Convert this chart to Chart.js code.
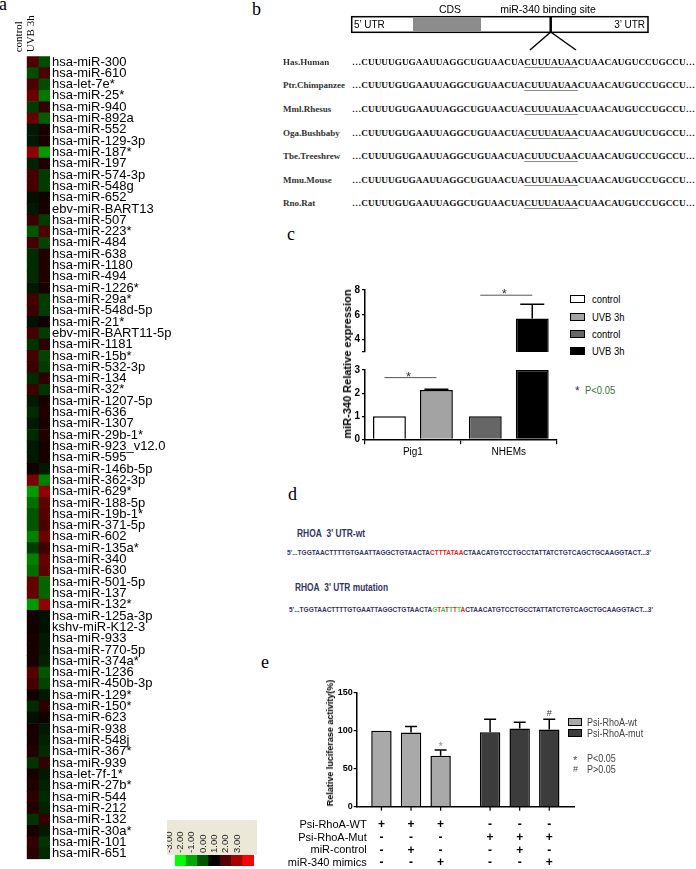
<!DOCTYPE html>
<html><head><meta charset="utf-8">
<script src="https://cdn.jsdelivr.net/npm/chart.js@4.4.1/dist/chart.umd.min.js"></script>
<style>
html,body{margin:0;padding:0;background:#fff;}
body{width:696px;height:869px;position:relative;overflow:hidden;font-family:"Liberation Sans",Arial,sans-serif;color:#000;}
canvas{position:absolute;}
.abs{position:absolute;white-space:nowrap;}
.plab{position:absolute;font-family:"Liberation Serif","Times New Roman",serif;font-size:18px;line-height:18px;}
.site{text-decoration:underline;text-decoration-color:#8a8a8a;text-underline-offset:1.5px;}
.sw{position:absolute;box-sizing:border-box;border:1.5px solid #000;}
</style></head>
<body>
<!-- panel letters -->
<div class="plab" style="left:-1px;top:-5px">a</div>
<div class="plab" style="left:252px;top:0px">b</div>
<div class="plab" style="left:287px;top:225px">c</div>
<div class="plab" style="left:288px;top:485px">d</div>
<div class="plab" style="left:261px;top:653px">e</div>

<canvas id="hm" width="200" height="869" style="left:0;top:0"></canvas>
<div style="position:absolute;left:167px;top:820px;width:90px;height:35px;background:#ebe8d8"></div>
<canvas id="hmLeg" width="90" height="47" style="left:167px;top:820px"></canvas>

<svg style="position:absolute;left:0;top:0" width="696" height="60">
  <rect x="351.7" y="16.7" width="296.3" height="15.6" fill="#fff" stroke="#000" stroke-width="1.5"/>
  <rect x="413" y="17.5" width="68" height="14" fill="#8c8c8c"/>
  <line x1="550.7" y1="16" x2="550.7" y2="32.5" stroke="#000" stroke-width="2.5"/>
  <line x1="550.7" y1="32" x2="530" y2="50" stroke="#000" stroke-width="1.5"/>
  <line x1="550.7" y1="32" x2="576" y2="50" stroke="#000" stroke-width="1.5"/>
</svg>

<canvas id="cU" width="265" height="80" style="left:300px;top:280px"></canvas>
<canvas id="cL" width="265" height="112" style="left:300px;top:360px"></canvas>
<canvas id="ce" width="320" height="189" style="left:270px;top:680px"></canvas>

<script>
// ================= DATA =================
// panel a : heat map (log ratio, -3 .. 3)
const heatColumns = ['control', 'UVB 3h'];
const mirNames = ['hsa-miR-300','hsa-miR-610','hsa-let-7e*','hsa-miR-25*','hsa-miR-940','hsa-miR-892a','hsa-miR-552','hsa-miR-129-3p','hsa-miR-187*','hsa-miR-197','hsa-miR-574-3p','hsa-miR-548g','hsa-miR-652','ebv-miR-BART13','hsa-miR-507','hsa-miR-223*','hsa-miR-484','hsa-miR-638','hsa-miR-1180','hsa-miR-494','hsa-miR-1226*','hsa-miR-29a*','hsa-miR-548d-5p','hsa-miR-21*','ebv-miR-BART11-5p','hsa-miR-1181','hsa-miR-15b*','hsa-miR-532-3p','hsa-miR-134','hsa-miR-32*','hsa-miR-1207-5p','hsa-miR-636','hsa-miR-1307','hsa-miR-29b-1*','hsa-miR-923_v12.0','hsa-miR-595','hsa-miR-146b-5p','hsa-miR-362-3p','hsa-miR-629*','hsa-miR-188-5p','hsa-miR-19b-1*','hsa-miR-371-5p','hsa-miR-602','hsa-miR-135a*','hsa-miR-340','hsa-miR-630','hsa-miR-501-5p','hsa-miR-137','hsa-miR-132*','hsa-miR-125a-3p','kshv-miR-K12-3','hsa-miR-933','hsa-miR-770-5p','hsa-miR-374a*','hsa-miR-1236','hsa-miR-450b-3p','hsa-miR-129*','hsa-miR-150*','hsa-miR-623','hsa-miR-938','hsa-miR-548j','hsa-miR-367*','hsa-miR-939','hsa-let-7f-1*','hsa-miR-27b*','hsa-miR-544','hsa-miR-212','hsa-miR-132','hsa-miR-30a*','hsa-miR-101','hsa-miR-651'];
const controlVals = [0.9,-0.9,0.9,1.2,-0.7,1.2,-0.3,-0.3,1.7,-0.4, 0.8,0.8,-0.2,-0.3,0.7,-1.0,0.8,-0.5,-0.5,-0.5, -0.3,0.8,0.7,-0.2,0.8,-0.6,0.8,0.7,-0.5,0.7, -0.3,-0.5,-0.3,-0.5,-0.3,-0.3,0.2,1.4,-1.8,-1.3, -1.0,-1.0,-1.5,-0.7,-1.5,-1.3,1.2,1.2,-1.8,0.2, 0.2,0.3,0.3,0.3,1.0,0.8,0.2,-0.5,-0.2,0.3, 0.3,0.4,-0.6,0.3,0.4,0.5,0.4,-0.6,0.3,0.6, 0.5];
const uvbVals = [-0.9,0.9,-0.9,-1.4,0.6,-1.1,0.3,0.3,-1.8,0.4, -0.7,-0.7,0.2,0.3,-0.7,0.9,-0.8,0.4,0.4,0.4, 0.3,-0.7,-0.7,0.2,-0.7,0.5,-0.8,-0.7,0.5,-0.6, 0.3,0.4,0.3,0.4,0.3,0.3,-0.3,-1.5,1.7,1.1, 1.0,0.9,1.3,0.7,1.2,1.1,-1.2,-1.2,1.7,-0.2, -0.2,-0.3,-0.3,-0.4,-1.0,-0.8,-0.3,0.5,0.2,-0.3, -0.4,-0.5,0.6,-0.3,-0.4,-0.5,-0.4,0.6,-0.3,-0.6, -0.5];
const scaleValues = [-3, -2, -1, 0, 1, 2, 3];
const scaleLabels = ['-3.00', '-2.00', '-1.00', '0.00', '1.00', '2.00', '3.00'];

// panel b : conservation of the binding site
const species = ['Has.Human','Ptr.Chimpanzee','Mml.Rhesus','Oga.Bushbaby','Tbe.Treeshrew','Mmu.Mouse','Rno.Rat'];
const seqBefore = ['CUUUUGUGAAUUAGGCUGUAACUA','CUUUUGUGAAUUAGGCUGUAACUA','CUUUUGUGAAUUAGGCUGUAACUA','CUUUUGUGAAUUAGGCUGUAACUA','CUUUUGUGAAUUAGGCUGUAACUA','CUUUUGUGAAUUAGGCUGUAACUA','CUUUUGUGAAUUAGGCUGUAACUA'];
const seqSite   = ['CUUUAUAA','CUUUAUAA','CUUUAUAA','CUUUAUAA','CUUUCUAA','CUUUAUAA','CUUUAUAA'];
const seqAfter  = ['CUAACAUGUCCUGCCU','CUAACAUGUCCUGCCU','CUAACAUGUCCUGCCU','CUAACAUGUUCUGCCU','CUAACAUGUCCUGCCU','CUAACAUGUCCUGCCU','CUAACAUGUCCUGCCU'];

// panel c : miR-340 relative expression
const cGroups = ['Pig1', 'NHEMs'];
const cControl = [1, 1];
const cUVB = [2.13, 5.7];
const cControlErr = [0, 0];
const cUVBErr = [0.04, 1.15];
const cSig = [2.67, 7.58];
const cBreak = 3;
const cUpperMax = 8;
const cUpperTicks = [3, 4, 6, 8];
const cLowerTicks = [0, 1, 2, 3];
const cLegendLabels = ['control', 'UVB 3h', 'control', 'UVB 3h'];

// panel d : sequences
const dWtBefore = "5'...TGGTAACTTTTGTGAATTAGGCTGTAACTA";
const dWtSite = 'CTTTATAA';
const dMutSite = 'GTATTTTA';
const dAfter = "CTAACATGTCCTGCCTATTATCTGTCAGCTGCAAGGTACT...3'";

// panel e : luciferase activity
const eGroups = ['Psi-RhoA-wt', 'Psi-RhoA-mut'];
const eNoMiR = [100, 98];
const eMiRControl = [97.5, 103];
const eMimics = [67, 101.5];
const eNoMiRErr = [0, 17];
const eMiRControlErr = [8, 8];
const eMimicsErr = [7.5, 13.5];
const eMimicsMark = ['*', '#'];
const eYTicks = [0, 50, 100, 150];
const eRowLabels = ['Psi-RhoA-WT', 'Psi-RhoA-Mut', 'miR-control', 'miR-340 mimics'];
const eRows = [['+','+','+','-','-','-'], ['-','-','-','+','+','+'], ['-','+','-','-','+','-'], ['-','-','+','-','-','+']];

// ================= STYLE =================
const SANS = '"Liberation Sans", Arial, sans-serif';
const SERIF = '"Liberation Serif", "Times New Roman", serif';
Chart.defaults.font.family = SANS;
Chart.defaults.color = '#000';
function heatColor(v) {
  const t = Math.max(-3, Math.min(3, v)) / 3;
  return t >= 0 ? `rgb(${Math.round(255 * t)},0,0)` : `rgb(0,${Math.round(-255 * t)},0)`;
}
const cControlColors = ['#ffffff', '#666666'];
const cUVBColors = ['#a3a3a3', '#000000'];
const eColors = ['#a9a9a9', '#3c3c3c'];

// ================= PLUGINS =================
const errorBars = {
  id: 'errorBars',
  afterDatasetsDraw(chart, args, opts) {
    const ys = chart.scales.y, ctx = chart.ctx, cap = opts.cap || 12;
    chart.data.datasets.forEach((ds, di) => {
      if (!ds.errs) return;
      const meta = chart.getDatasetMeta(di);
      const vals = ds.vals || ds.data;
      meta.data.forEach((bar, i) => {
        const v = vals[i], e = ds.errs[i];
        if (v == null || v < ys.min || v > ys.max) return;
        const y0 = ys.getPixelForValue(v);
        const y1 = ys.getPixelForValue(v + (e || 0));
        ctx.save();
        if (e) {
          ctx.strokeStyle = '#000'; ctx.lineWidth = 1.5;
          ctx.beginPath();
          ctx.moveTo(bar.x, y0); ctx.lineTo(bar.x, y1);
          ctx.moveTo(bar.x - cap / 2, y1); ctx.lineTo(bar.x + cap / 2, y1);
          ctx.stroke();
        }
        if (ds.marks && ds.marks[i]) {
          const m = ds.marks[i];
          ctx.fillStyle = m === '*' ? '#8a8a8a' : '#333';
          ctx.font = (m === '*' ? '11px ' : '9px ') + SANS;
          ctx.textAlign = 'center'; ctx.textBaseline = 'middle';
          ctx.fillText(m, bar.x, m === '*' ? y1 - 3 : y1 - 6);
        }
        ctx.restore();
      });
    });
  }
};
const sigPlugin = {
  id: 'sig',
  afterDatasetsDraw(chart, args, opts) {
    const ys = chart.scales.y, ctx = chart.ctx;
    (opts.levels || []).forEach((lv, g) => {
      if (lv == null || lv < ys.min || lv > ys.max) return;
      const x0 = chart.getDatasetMeta(0).data[g].x - 5;
      const x1 = chart.getDatasetMeta(1).data[g].x;
      const y = ys.getPixelForValue(lv);
      ctx.save();
      ctx.strokeStyle = '#555'; ctx.lineWidth = 1;
      ctx.beginPath(); ctx.moveTo(x0, y); ctx.lineTo(x1, y); ctx.stroke();
      ctx.fillStyle = '#333'; ctx.font = '13px ' + SANS;
      ctx.textAlign = 'center'; ctx.textBaseline = 'alphabetic';
      ctx.fillText('*', (x0 + x1) / 2 - 2, y + 3);
      ctx.restore();
    });
  }
};
const eTable = {
  id: 'eTable',
  afterDraw(chart) {
    const ctx = chart.ctx, ca = chart.chartArea;
    const bars = [];
    for (let i = 0; i < eGroups.length; i++)
      for (let d = 0; d < chart.data.datasets.length; d++) bars.push(chart.getDatasetMeta(d).data[i]);
    ctx.save();
    ctx.strokeStyle = '#000'; ctx.lineWidth = 1.2;
    bars.forEach(b => { ctx.beginPath(); ctx.moveTo(b.x, ca.bottom); ctx.lineTo(b.x, ca.bottom + 4); ctx.stroke(); });
    ctx.fillStyle = '#000'; ctx.textBaseline = 'middle';
    eRowLabels.forEach((lab, r) => {
      const y = ca.bottom + 18.3 + r * 12.6;
      ctx.font = '11px ' + SANS; ctx.textAlign = 'right';
      ctx.fillText(lab, ca.left + 10, y);
      ctx.textAlign = 'center'; ctx.font = 'bold 12px ' + SANS;
      eRows[r].forEach((s, k) => ctx.fillText(s, bars[k].x, y));
    });
    ctx.restore();
  }
};

// ================= PANEL a =================
new Chart(document.getElementById('hm'), {
  type: 'bar',
  data: {
    labels: mirNames,
    datasets: [
      { label: heatColumns[0], data: mirNames.map(() => [0, 1]), backgroundColor: controlVals.map(heatColor), grouped: false, barPercentage: 1, categoryPercentage: 1, borderWidth: 0 },
      { label: heatColumns[1], data: mirNames.map(() => [1, 2]), backgroundColor: uvbVals.map(heatColor), grouped: false, barPercentage: 1, categoryPercentage: 1, borderWidth: 0 }
    ]
  },
  options: {
    indexAxis: 'y', responsive: false, animation: false,
    layout: { padding: { left: 26.7, right: 0, top: 0, bottom: 5.5 } },
    plugins: { legend: { display: false }, tooltip: { enabled: false } },
    scales: {
      x: { type: 'linear', position: 'top', min: 0, max: 2,
        grid: { display: false, drawTicks: false }, border: { display: false },
        afterBuildTicks: s => { s.ticks = [{ value: 0.5 }, { value: 1.5 }]; },
        afterFit: s => { s.height = 56.3; },
        ticks: { callback: (v, i) => heatColumns[i], minRotation: 90, maxRotation: 90, padding: 4, font: { family: SERIF, size: 11 }, color: '#000' } },
      y: { position: 'right', grid: { display: false, drawTicks: false }, border: { display: false },
        afterFit: s => { s.width = 150; },
        ticks: { autoSkip: false, padding: 2, font: { size: 13 }, color: '#000' } }
    }
  }
});
new Chart(document.getElementById('hmLeg'), {
  type: 'bar',
  data: { labels: scaleLabels, datasets: [{ data: scaleValues.map(() => 1), backgroundColor: scaleValues.map(heatColor), barPercentage: 1, categoryPercentage: 1, borderWidth: 0 }] },
  options: {
    responsive: false, animation: false,
    layout: { padding: { left: 0, right: 3, top: 0, bottom: 1 } },
    plugins: { legend: { display: false }, tooltip: { enabled: false } },
    scales: {
      x: { position: 'top', grid: { display: false, drawTicks: false }, border: { display: false },
        afterFit: s => { s.height = 35; },
        ticks: { autoSkip: false, minRotation: 90, maxRotation: 90, padding: 2, font: { size: 9.5 }, color: '#222' } },
      y: { display: false, min: 0, max: 1 }
    }
  }
});

// ================= PANEL c =================
function cChart(id, upper) {
  const clip = v => upper ? (v > cBreak ? [cBreak, v] : null) : Math.min(v, cBreak);
  return new Chart(document.getElementById(id), {
    type: 'bar',
    data: { labels: cGroups, datasets: [
      { label: 'control', data: cControl.map(clip), vals: cControl, errs: cControlErr, backgroundColor: cControlColors, borderColor: '#000', borderWidth: 1.5, barPercentage: 0.70, categoryPercentage: 0.98 },
      { label: 'UVB 3h', data: cUVB.map(clip), vals: cUVB, errs: cUVBErr, backgroundColor: cUVBColors, borderColor: '#000', borderWidth: 1.5, barPercentage: 0.70, categoryPercentage: 0.98 }
    ] },
    options: {
      responsive: false, animation: false,
      layout: { padding: upper ? { left: 0, right: 8.3, top: 10, bottom: 1.7 } : { left: 0, right: 8.3, top: 10, bottom: 0 } },
      plugins: { legend: { display: false }, tooltip: { enabled: false }, errorBars: { cap: 24 }, sig: { levels: cSig } },
      scales: {
        x: upper ? { display: false } : {
          grid: { display: true, drawOnChartArea: false, tickLength: 5, color: '#000', lineWidth: 1.2 },
          border: { color: '#000', width: 1.5 },
          ticks: { font: { size: 10 }, color: '#000', padding: 2 },
          afterFit: s => { s.height = 32.7; } },
        y: { min: upper ? cBreak : 0, max: upper ? cUpperMax : cBreak,
          afterBuildTicks: s => { s.ticks = (upper ? cUpperTicks : cLowerTicks).map(v => ({ value: v })); },
          afterFit: s => { s.width = 65; },
          grid: { drawOnChartArea: false, tickLength: 3, color: '#000', lineWidth: 1.2 },
          border: { color: '#000', width: 1.5 },
          ticks: { font: { size: 10, weight: 'bold' }, color: '#000', padding: 2, callback: v => (upper && v === cBreak) ? '' : v } }
      }
    },
    plugins: [errorBars, sigPlugin]
  });
}
cChart('cU', true);
cChart('cL', false);

// ================= PANEL e =================
new Chart(document.getElementById('ce'), {
  type: 'bar',
  data: { labels: eGroups, datasets: [
    { label: 'no miRNA', data: eNoMiR, errs: eNoMiRErr, backgroundColor: eColors, borderColor: '#000', borderWidth: 1.5, barPercentage: 0.69, categoryPercentage: 0.817 },
    { label: 'miR-control', data: eMiRControl, errs: eMiRControlErr, backgroundColor: eColors, borderColor: '#000', borderWidth: 1.5, barPercentage: 0.69, categoryPercentage: 0.817 },
    { label: 'miR-340 mimics', data: eMimics, errs: eMimicsErr, marks: eMimicsMark, backgroundColor: eColors, borderColor: '#000', borderWidth: 1.5, barPercentage: 0.69, categoryPercentage: 0.817 }
  ] },
  options: {
    responsive: false, animation: false,
    layout: { padding: { left: 0, right: 16, top: 12.7, bottom: 0 } },
    plugins: { legend: { display: false }, tooltip: { enabled: false }, errorBars: { cap: 12 } },
    scales: {
      x: { grid: { display: false }, border: { color: '#000', width: 1.5 }, ticks: { display: false }, afterFit: s => { s.height = 62.3; } },
      y: { min: 0, max: 150,
        afterBuildTicks: s => { s.ticks = eYTicks.map(v => ({ value: v })); },
        afterFit: s => { s.width = 86.7; },
        grid: { drawOnChartArea: false, tickLength: 3, color: '#000', lineWidth: 1.2 },
        border: { color: '#000', width: 1.5 },
        ticks: { font: { size: 9, weight: 'bold' }, color: '#000', padding: 1 } }
    }
  },
  plugins: [errorBars, eTable]
});

// ================= DOM TEXT =================
function addText(html, left, cy, style) {
  const d = document.createElement('div');
  d.className = 'abs';
  d.style.left = left + 'px'; d.style.top = (cy - 8) + 'px';
  d.style.height = '16px'; d.style.lineHeight = '16px';
  Object.assign(d.style, style || {});
  d.innerHTML = html;
  document.body.appendChild(d);
  return d;
}
function fitWidth(el, w) {
  const cur = el.getBoundingClientRect().width;
  el.style.transformOrigin = 'left center';
  el.style.transform = 'scaleX(' + (w / cur) + ')';
}
function addVText(txt, cx, cy, style) {
  const d = document.createElement('div');
  d.className = 'abs'; d.textContent = txt;
  Object.assign(d.style, style || {});
  d.style.left = cx + 'px'; d.style.top = cy + 'px';
  d.style.transform = 'translate(-50%,-50%) rotate(-90deg)';
  document.body.appendChild(d);
}
const NARROW = 0.82;

// panel b
addText('5\u2019 UTR', 354, 24.5, { fontSize: '10px' });
const u3 = addText('3\u2019 UTR', 0, 24.5, { fontSize: '10px' });
u3.style.left = (645 - u3.getBoundingClientRect().width) + 'px';
const cds = addText('CDS', 0, 9.3, { fontSize: '10.5px' });
cds.style.left = (450 - cds.getBoundingClientRect().width / 2) + 'px';
const bs = addText('miR-340 binding site', 0, 9.3, { fontSize: '10.5px' });
bs.style.left = (548 - bs.getBoundingClientRect().width / 2) + 'px';
const rowY = [61.7, 85.3, 108.9, 132.5, 156.1, 179.7, 203.3];
species.forEach((sp, i) => {
  addText(sp, 283, rowY[i], { fontFamily: SERIF, fontWeight: 'bold', fontSize: '9px', color: '#333' });
  const s = addText('\u2026' + seqBefore[i] + '<span class="site">' + seqSite[i] + '</span>' + seqAfter[i] + '\u2026', 352, rowY[i],
    { fontFamily: SERIF, fontWeight: 'bold', fontSize: '9.2px', color: '#111' });
  fitWidth(s, 343);
});

// panel c texts
addVText('miR-340 Relative expression', 346.7, 364, { fontSize: '11px', fontWeight: 'bold' });
const cLegY = [299.3, 316.7, 334, 351.3];
const cLegColors = [cControlColors[0], cUVBColors[0], cControlColors[1], cUVBColors[1]];
cLegendLabels.forEach((lab, i) => {
  const sw = document.createElement('div'); sw.className = 'sw';
  Object.assign(sw.style, { left: '570px', top: (cLegY[i] - 4) + 'px', width: '15px', height: '8px', background: cLegColors[i] });
  document.body.appendChild(sw);
  const t = addText(lab, 592, cLegY[i], { fontSize: '11.5px' }); fitWidth(t, t.getBoundingClientRect().width * NARROW);
});
addText('*', 575, 391, { fontSize: '12px', color: '#333' });
const cp = addText('P&lt;0.05', 585, 390, { fontSize: '11.5px', color: '#3a6e3a' }); fitWidth(cp, cp.getBoundingClientRect().width * NARROW);

// panel d
const navy = '#34345e';
const dl1 = addText("RHOA&nbsp;&nbsp;3' UTR-wt", 297, 533, { fontSize: '10.5px', fontWeight: 'bold', color: navy }); fitWidth(dl1, 68);
const ds1 = addText(dWtBefore + '<span style="color:#e8231f">' + dWtSite + '</span>' + dAfter, 287, 553,
  { fontSize: '8px', fontWeight: 'bold', color: navy }); fitWidth(ds1, 364);
const dl2 = addText("RHOA&nbsp;&nbsp;3' UTR mutation", 295, 587, { fontSize: '10.5px', fontWeight: 'bold', color: navy }); fitWidth(dl2, 93);
const mutColors = ['#3cc83c', '#e8231f'];
const mutHtml = dMutSite.split('').map((ch, k) => '<span style="color:' + mutColors[k % 2] + '">' + ch + '</span>').join('');
const ds2 = addText(dWtBefore + mutHtml + dAfter, 289, 610, { fontSize: '8px', fontWeight: 'bold', color: navy }); fitWidth(ds2, 364);

// panel e texts
addVText('Relative luciferase activity(%)', 330, 743, { fontSize: '9px', fontWeight: 'bold' });
const eLegY = [721.7, 733.3];
eGroups.forEach((lab, i) => {
  const sw = document.createElement('div'); sw.className = 'sw';
  Object.assign(sw.style, { left: '568px', top: (eLegY[i] - 4) + 'px', width: '14px', height: '8px', background: eColors[i] });
  document.body.appendChild(sw);
  const t = addText(lab, 587, eLegY[i], { fontSize: '11px', color: '#444' }); fitWidth(t, t.getBoundingClientRect().width * NARROW);
});
addText('*', 573, 760, { fontSize: '11px', color: '#444' });
const e1 = addText('P&lt;0.05', 587, 758.3, { fontSize: '11px', color: '#444' }); fitWidth(e1, e1.getBoundingClientRect().width * NARROW);
addText('#', 573, 769.3, { fontSize: '9px', color: '#444' });
const e2 = addText('P&gt;0.05', 587, 769.3, { fontSize: '11px', color: '#444' }); fitWidth(e2, e2.getBoundingClientRect().width * NARROW);
</script>
</body></html>
